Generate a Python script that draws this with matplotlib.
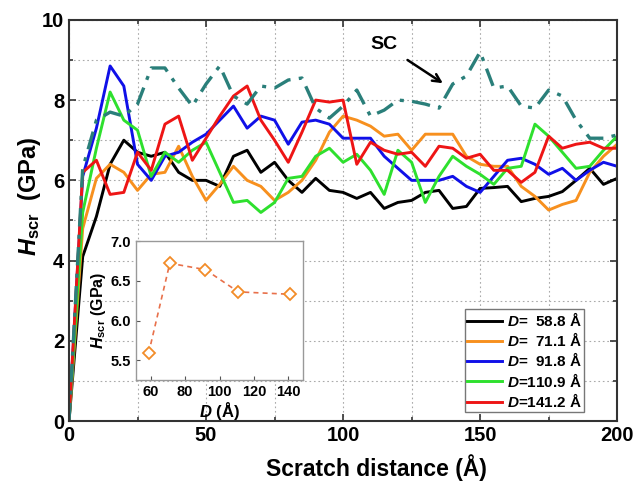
import matplotlib
matplotlib.use('Agg')
import matplotlib.pyplot as plt

plt.rcParams['font.family'] = ['Liberation Sans', 'DejaVu Sans']
plt.rcParams['font.weight'] = 'bold'
plt.rcParams['mathtext.fontset'] = 'custom'
plt.rcParams['mathtext.it'] = 'Liberation Sans:bold:italic'
plt.rcParams['mathtext.rm'] = 'Liberation Sans:bold'
plt.rcParams['mathtext.bf'] = 'Liberation Sans:bold'

# ---- data ----
distance = [0, 5, 10, 15, 20, 25, 30, 35, 40, 45, 50, 55, 60, 65, 70, 75, 80,
            85, 90, 95, 100, 105, 110, 115, 120, 125, 130, 135, 140, 145, 150,
            155, 160, 165, 170, 175, 180, 185, 190, 195, 200]

h_588 = [0, 4.1, 5.1, 6.4, 7.0, 6.7, 6.6, 6.7, 6.2, 6.0, 6.0, 5.85, 6.6, 6.75,
         6.2, 6.45, 6.0, 5.7, 6.05, 5.75, 5.7, 5.55, 5.7, 5.3, 5.45, 5.5, 5.7,
         5.75, 5.3, 5.35, 5.8, 5.82, 5.85, 5.47, 5.55, 5.6, 5.72, 6.0, 6.3,
         5.9, 6.05]
h_711 = [0, 4.8, 6.05, 6.4, 6.2, 5.75, 6.15, 6.2, 6.85, 6.1, 5.5, 5.9, 6.35,
         6.0, 5.85, 5.5, 5.7, 6.0, 6.5, 7.2, 7.6, 7.5, 7.35, 7.1, 7.15, 6.75,
         7.15, 7.15, 7.15, 6.6, 6.4, 6.35, 6.35, 5.85, 5.6, 5.26, 5.4, 5.5,
         6.2, 6.6, 6.9]
h_918 = [0, 6.1, 7.3, 8.85, 8.35, 6.4, 6.0, 6.6, 6.7, 6.95, 7.15, 7.5, 7.85,
         7.3, 7.6, 7.5, 6.9, 7.45, 7.5, 7.4, 7.05, 7.05, 7.05, 6.6, 6.3, 6.0,
         6.0, 6.0, 6.1, 5.85, 5.7, 6.1, 6.5, 6.55, 6.4, 6.15, 6.3, 6.0, 6.25,
         6.45, 6.35]
h_1109 = [0, 5.2, 6.8, 8.2, 7.5, 7.25, 6.1, 6.7, 6.45, 6.75, 6.95, 6.2, 5.45,
          5.5, 5.2, 5.45, 6.05, 6.1, 6.6, 6.8, 6.45, 6.65, 6.25, 5.65, 6.75,
          6.45, 5.45, 6.1, 6.6, 6.35, 6.15, 5.9, 6.3, 6.35, 7.4, 7.1, 6.7, 6.3,
          6.35, 6.75, 7.1]
h_1412 = [0, 6.2, 6.5, 5.65, 5.7, 6.7, 6.25, 7.4, 7.6, 6.5, 7.05, 7.6, 8.1,
          8.35, 7.5, 7.0, 6.45, 7.2, 8.0, 7.95, 8.0, 6.4, 6.95, 6.75, 6.65, 6.7,
          6.35, 6.85, 6.8, 6.55, 6.65, 6.25, 6.25, 5.95, 6.2, 7.1, 6.8, 6.9,
          6.95, 6.8, 6.8]
h_sc = [0, 6.3, 7.5, 7.7, 7.6, 7.9, 8.8, 8.8, 8.3, 7.85, 8.4, 8.85, 8.1, 7.9,
        8.35, 8.3, 8.5, 8.55, 7.8, 7.55, 7.85, 8.25, 7.6, 7.75, 8.0, 7.97, 7.9,
        7.8, 8.4, 8.6, 9.2, 8.3, 8.35, 7.85, 7.8, 8.25, 8.1, 7.5, 7.05, 7.05,
        7.13]

grain_size = [58.8, 71.1, 91.8, 110.9, 141.2]
h_mean = [5.59, 6.72, 6.64, 6.36, 6.33]

labels = [r'$D$=  58.8 Å', r'$D$=  71.1 Å', r'$D$=  91.8 Å',
          r'$D$=110.9 Å', r'$D$=141.2 Å']
colors = ['#000000', '#F7901E', '#1010E8', '#2EE02E', '#EE1515']

fig = plt.figure(figsize=(6.33, 4.83), dpi=100)
ax = fig.add_axes([0.109, 0.128, 0.866, 0.831])

for ys, c, lab in zip([h_588, h_711, h_918, h_1109, h_1412], colors, labels):
    ax.plot(distance, ys, color=c, lw=2.1, label=lab)
ax.plot(distance, h_sc, color='#2A7F7A', lw=2.4, dashes=(5.5, 2.5, 1.2, 2.5))

ax.set_xlim(0, 200)
ax.set_ylim(0, 10)
ax.set_xticks([0, 50, 100, 150, 200])
ax.set_xticks([25, 75, 125, 175], minor=True)
ax.set_yticks([0, 2, 4, 6, 8, 10])
ax.set_yticks([1, 3, 5, 7, 9], minor=True)
ax.tick_params(which='both', direction='in', top=True, right=True,
               labelsize=14.5, width=1.2, color='#333333')
ax.tick_params(which='major', length=5)
ax.tick_params(which='minor', length=3)
ax.grid(which='both', linestyle=(0, (1.5, 2.5)), color='#aaaaaa', lw=0.8)
for s in ax.spines.values():
    s.set_linewidth(1.5)
    s.set_color('#333333')

ax.set_xlabel('Scratch distance (Å)', fontsize=16.5, fontweight='bold')
ax.xaxis.set_label_coords(0.56, -0.082)
ax.set_ylabel(r'$H_{\rm scr}$  (GPa)', fontsize=17, fontweight='bold')
ax.yaxis.set_label_coords(-0.047, 0.56)

ax.legend(loc='lower right', bbox_to_anchor=(0.94, 0.022), borderaxespad=0,
          fontsize=11, handlelength=2.3, handletextpad=0.3, labelspacing=0.15,
          fancybox=False, framealpha=1, edgecolor='#777777', borderpad=0.15)

ax.annotate('SC', xy=(136.4, 8.42), xytext=(115, 9.38), fontsize=14,
            fontweight='bold', ha='center', va='center',
            arrowprops=dict(arrowstyle='->', color='black', lw=1.8,
                            shrinkA=6, shrinkB=0))

# inset
ins = fig.add_axes([0.215, 0.213, 0.263, 0.288])
ins.plot(grain_size, h_mean, color='#E8704A', lw=1.2, ls=(0, (3, 2.5)),
         marker='D', ms=6, mfc='white', mec='#F28C28', mew=1.3)
ins.set_xlim(51.5, 148.3)
ins.set_ylim(5.25, 7.0)
ins.set_xticks([60, 80, 100, 120, 140])
ins.set_yticks([5.5, 6.0, 6.5, 7.0])
ins.set_yticklabels(['5.5', '6.0', '6.5', '7.0'])
ins.tick_params(direction='in', labelsize=10.5, length=3, color='#555555')
for s in ins.spines.values():
    s.set_color('#999999')
    s.set_linewidth(1.0)
ins.set_xlabel(r'$D$ (Å)', fontsize=12, fontweight='bold', labelpad=1)
ins.set_ylabel(r'$H_{\rm scr}$ (GPa)', fontsize=11.5, fontweight='bold', labelpad=2)

fig.savefig('out.png', dpi=100)
